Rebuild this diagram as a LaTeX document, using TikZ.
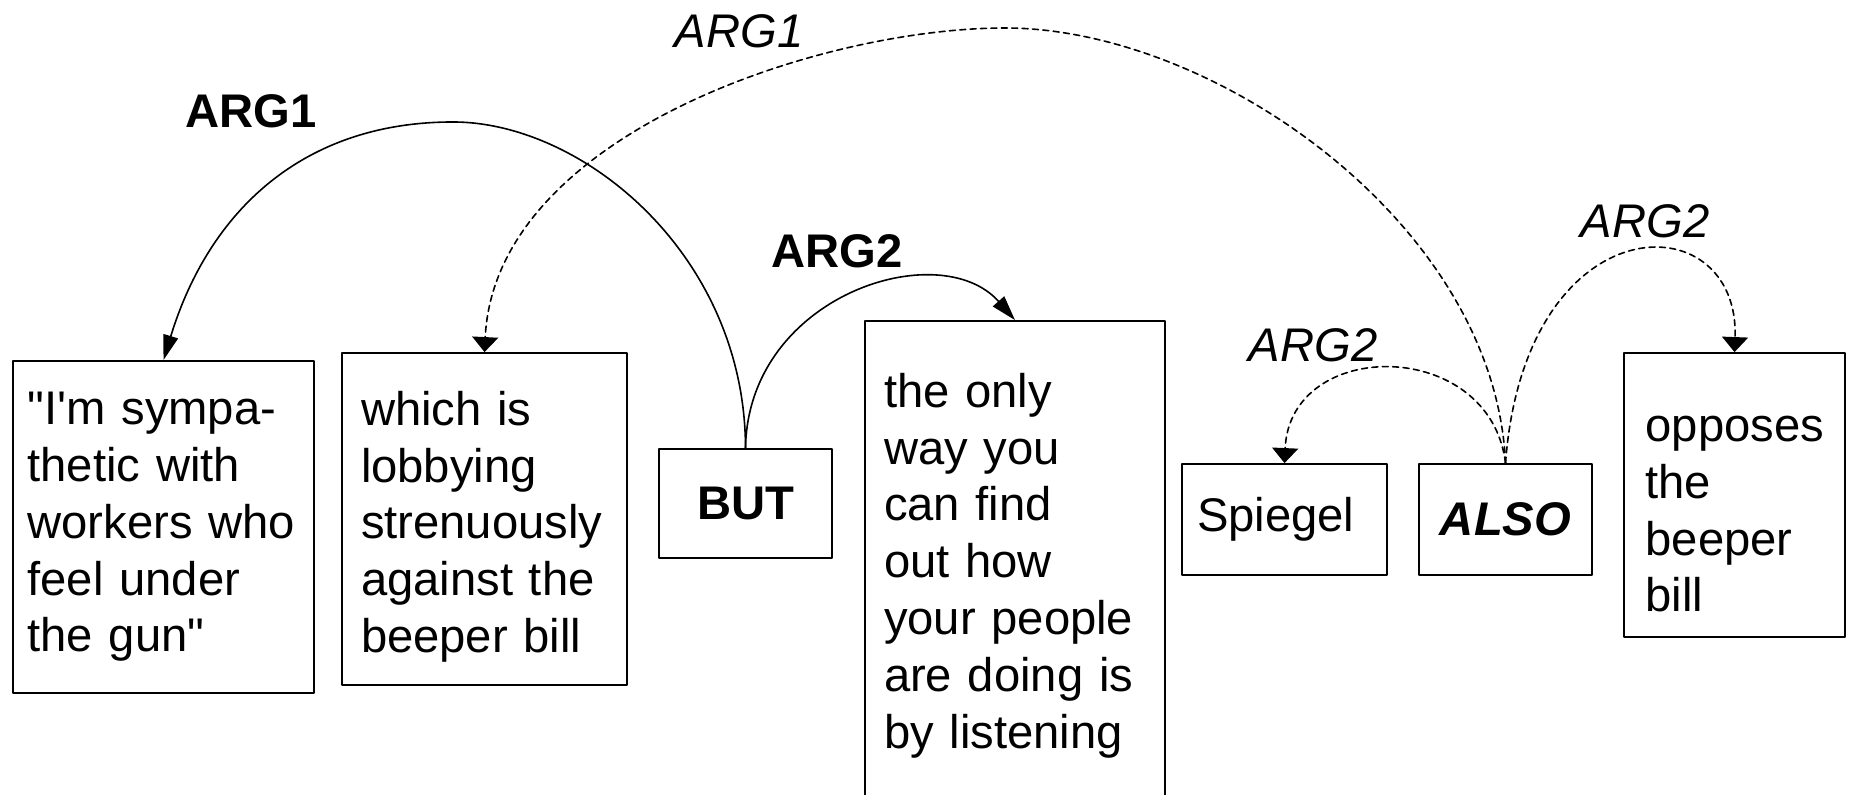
\documentclass[tikz,border=0pt]{standalone}
\usepackage{fontspec}
\setmainfont{Liberation Sans}[Ligatures=TeXOff]
\usetikzlibrary{arrows.meta}

\begin{document}
\fontsize{23.6}{28.4}\selectfont
\begin{tikzpicture}[line cap=round,line join=round,x=0.5pt,y=0.5pt,
  box/.style={draw,line width=0.9pt,rectangle,inner ysep=0pt},
  txtbox/.style={box,align=left},
  arc/.style={line width=0.8pt,-{Triangle[length=12.5pt,width=7.5pt]}},
  darc/.style={line width=0.8pt,dash pattern=on 3pt off 2.2pt,-{Triangle[length=7.5pt,width=13pt]}}]
\useasboundingbox (0,0) rectangle (1851,795);
\clip (0,0) rectangle (1851,795);
% text spans
\node[txtbox,text width=136pt,inner xsep=7.25pt,minimum height=166pt] (quote) at (163.5,268) {"I'm sympa-\\thetic with\\workers who\\feel under\\the gun"};
\node[txtbox,text width=123.5pt,inner xsep=9.5pt,minimum height=166pt] (lobby) at (484.5,276) {\rule{0pt}{24.8pt}which is\\lobbying\\strenuously\\against the\\beeper bill};
\node[box,minimum width=86.5pt,minimum height=54.5pt,font=\bfseries] (but) at (745.5,291.5) {BUT};
\node[txtbox,text width=131pt,inner xsep=9.5pt,minimum height=244.5pt] (only) at (1015,229.5) {the only\\way you\\can find\\out how\\your people\\are doing is\\by listening};
\node[txtbox,text width=87.5pt,inner xsep=7.5pt,minimum height=55.5pt] (spiegel) at (1284.5,275.5) {Spiegel};
\node[box,minimum width=86.5pt,minimum height=55.5pt,font=\bfseries\itshape] (also) at (1505.5,275.5) {ALSO};
\node[txtbox,text width=89pt,inner xsep=10.75pt,minimum height=142pt] (opp) at (1734.5,300) {\rule{0pt}{31.9pt}opposes\\the\\beeper\\bill};
% BUT relations
\draw[arc] (but.north) .. controls (745,540) and (583,673) .. (453,673)
  .. controls (303,673) and (209,584) .. (quote.north);
\draw[arc] (but.north) .. controls (748,500) and (940,560) .. (only.north);
\node[font=\bfseries] (arg1but) at (251,684) {ARG1};
\node[font=\bfseries] (arg2but) at (837,544) {ARG2};
% ALSO relations
\draw[darc] (also.north) .. controls (1495,570) and (1215,767) .. (1005,767)
  .. controls (820,767) and (495,660) .. (lobby.north);
\draw[darc] (also.north) .. controls (1490,458) and (1290,458) .. (spiegel.north);
\draw[darc] (also.north) .. controls (1525,594) and (1740,594) .. (opp.north);
\node[font=\itshape] (arg1also) at (739,764) {ARG1};
\node[font=\itshape] (arg2spg) at (1313,450) {ARG2};
\node[font=\itshape] (arg2opp) at (1645,574) {ARG2};
\end{tikzpicture}
\end{document}
